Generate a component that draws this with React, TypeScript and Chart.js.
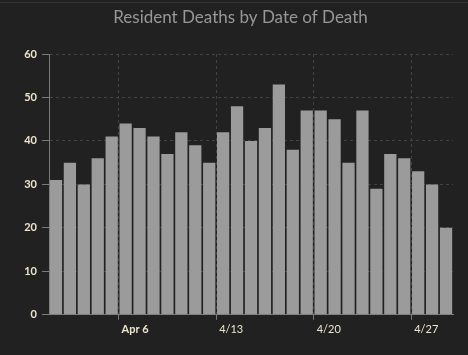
import React, { useEffect, useRef } from "react";
import { Chart, registerables } from "chart.js";

Chart.register(...registerables);

const dates: string[] = [
  "4/1", "4/2", "4/3", "4/4", "4/5", "4/6", "4/7", "4/8", "4/9", "4/10",
  "4/11", "4/12", "4/13", "4/14", "4/15", "4/16", "4/17", "4/18", "4/19", "4/20",
  "4/21", "4/22", "4/23", "4/24", "4/25", "4/26", "4/27", "4/28", "4/29",
];
const deaths: number[] = [
  31, 35, 30, 36, 41, 44, 43, 41, 37, 42,
  39, 35, 42, 48, 40, 43, 53, 38, 47, 47,
  45, 35, 47, 29, 37, 36, 33, 30, 20,
];
const tickLabels: Record<string, string> = {
  "4/6": "Apr 6",
  "4/13": "4/13",
  "4/20": "4/20",
  "4/27": "4/27",
};
const yTicks: number[] = [0, 10, 20, 30, 40, 50, 60];
const TITLE = "Resident Deaths by Date of Death";

const BG = "#212121";
const GRID = "#424242";
const AXIS = "#7a7a7a";
const LABEL = "#ece4cc";

const titlePlugin = {
  id: "offsetTitle",
  afterDraw(chart: any) {
    const ctx = chart.ctx;
    ctx.save();
    ctx.font = "normal 17px Lato";
    ctx.fillStyle = "#979797";
    ctx.textAlign = "center";
    ctx.textBaseline = "middle";
    ctx.fillText(TITLE, 240.5, 18);
    ctx.restore();
  },
};

export default function App() {
  const ref = useRef<HTMLCanvasElement>(null);

  useEffect(() => {
    document.body.style.margin = "0";
    document.body.style.background = BG;
    const ctx = ref.current!;
    const markIdx = (i: number) => {
      const d = dates[i];
      return d !== undefined && tickLabels[d] !== undefined;
    };
    const chart = new Chart(ctx, {
      type: "bar",
      data: {
        labels: dates,
        datasets: [
          {
            data: deaths,
            backgroundColor: "#9b9b9b",
            borderWidth: 0,
            categoryPercentage: 1,
            barPercentage: 0.88,
          },
        ],
      },
      plugins: [titlePlugin],
      options: {
        animation: false,
        responsive: false,
        devicePixelRatio: 1,
        layout: { padding: { left: 0, right: 15, top: 54, bottom: 16 } },
        plugins: {
          legend: { display: false },
          tooltip: { enabled: false },
          title: { display: false },
        },
        scales: {
          x: {
            type: "category",
            offset: true,
            grid: {
              offset: true,
              display: true,
              drawOnChartArea: true,
              drawTicks: true,
              tickLength: 5,
              color: (c: any) => (markIdx(c.index) ? GRID : "rgba(0,0,0,0)"),
              tickColor: (c: any) => (markIdx(c.index) ? AXIS : "rgba(0,0,0,0)"),
              tickBorderDash: [],
              lineWidth: 1,
            },
            border: { display: true, color: AXIS, width: 1, dash: [3, 3] },
            ticks: {
              autoSkip: false,
              maxRotation: 0,
              minRotation: 0,
              align: "start",
              labelOffset: -4,
              padding: 3,
              color: LABEL,
              font: (c: any) => ({
                family: "Lato",
                size: 11,
                weight: c.tick && c.tick.label === "Apr 6" ? "bold" : "normal",
              }),
              callback: (_v: any, i: number) => tickLabels[dates[i]] ?? "",
            },
          },
          y: {
            min: 0,
            max: 60,
            afterBuildTicks: (s: any) => {
              s.ticks = yTicks.map((v) => ({ value: v }));
            },
            afterFit: (s: any) => {
              s.width = 49;
            },
            grid: {
              color: GRID,
              tickBorderDash: [],
              tickColor: AXIS,
              tickLength: 7,
              lineWidth: 1,
            },
            border: { display: true, color: AXIS, width: 1, dash: [3, 3] },
            ticks: {
              padding: 5,
              color: LABEL,
              font: { family: "Lato", size: 11, weight: "bold" },
            },
          },
        },
      },
    });
    return () => chart.destroy();
  }, []);

  return (
    <div style={{ position: "relative", width: 468, height: 355, background: BG }}>
      <div
        style={{
          position: "absolute",
          top: 2,
          left: 0,
          width: 468,
          height: 1,
          background: "#333333",
        }}
      />
      <canvas ref={ref} width={468} height={355} style={{ display: "block" }} />
    </div>
  );
}
